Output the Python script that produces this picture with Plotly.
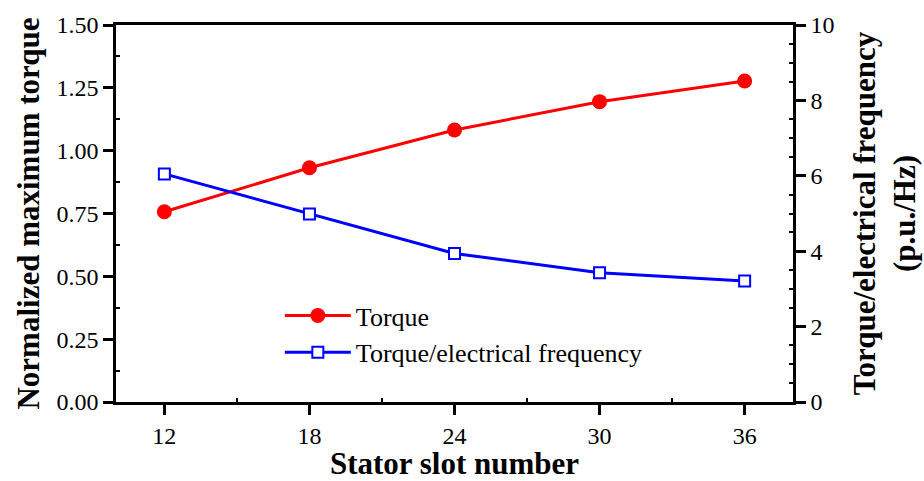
import plotly.graph_objects as go

slots = [12, 18, 24, 30, 36]
torque = [0.757, 0.932, 1.082, 1.195, 1.277]
torque_per_freq = [6.05, 4.99, 3.94, 3.43, 3.21]

font_family = "Liberation Serif, Times New Roman, serif"

fig = go.Figure()
fig.add_trace(go.Scatter(
    x=slots, y=torque, name="Torque", mode="lines+markers",
    line=dict(color="#ff0000", width=3),
    marker=dict(symbol="circle", size=15, color="#ff0000"),
    yaxis="y"))
fig.add_trace(go.Scatter(
    x=slots, y=torque_per_freq, name="Torque/electrical frequency", mode="lines+markers",
    line=dict(color="#0000ff", width=3),
    marker=dict(symbol="square", size=11, color="white", line=dict(color="#0000ff", width=2)),
    yaxis="y2"))

fig.update_layout(
    width=924, height=481,
    margin=dict(l=116, r=131, t=25, b=79, autoexpand=False),
    plot_bgcolor="white", paper_bgcolor="white",
    font=dict(family=font_family, color="black", size=24),
    showlegend=True,
    legend=dict(x=0.242, y=0.18, xanchor="left", yanchor="middle",
                bgcolor="rgba(0,0,0,0)", font=dict(size=26), itemwidth=66,
                tracegroupgap=0),
    xaxis=dict(
        range=[10, 38], tickvals=slots, ticktext=[str(s) for s in slots],
        showgrid=False, zeroline=False, automargin=False,
        showline=True, linecolor="black", linewidth=2.5, mirror=True,
        ticks="outside", ticklen=10, tickwidth=2.5, tickcolor="black",
        minor=dict(tickvals=[15, 21, 27, 33], ticks="inside", ticklen=4, tickwidth=1.5, tickcolor="black"),
        tickfont=dict(size=24),
        title=dict(text="<b>Stator slot number</b>", font=dict(size=31), standoff=6)),
    yaxis=dict(
        range=[0, 1.5], tickvals=[0, 0.25, 0.5, 0.75, 1.0, 1.25, 1.5], tickformat=".2f",
        showgrid=False, zeroline=False, automargin=False,
        showline=True, linecolor="black", linewidth=2.5,
        ticks="outside", ticklen=10, tickwidth=2.5, tickcolor="black",
        minor=dict(tickvals=[0.125, 0.375, 0.625, 0.875, 1.125, 1.375], ticks="inside",
                   ticklen=4, tickwidth=1.5, tickcolor="black"),
        tickfont=dict(size=24),
        title=dict(text="<b>Normalized maximum torque</b>", font=dict(size=31), standoff=8)),
    yaxis2=dict(
        range=[0, 10], tickvals=[0, 2, 4, 6, 8, 10], overlaying="y", side="right",
        showgrid=False, zeroline=False, automargin=False,
        showline=True, linecolor="black", linewidth=2.5,
        ticks="outside", ticklen=10, tickwidth=2.5, tickcolor="black",
        minor=dict(tickvals=[0.5*i for i in range(1, 20) if i % 4 != 0], ticks="inside",
                   ticklen=4, tickwidth=1.5, tickcolor="black"),
        tickfont=dict(size=24),
        title=dict(text="<b>Torque/electrical frequency<br>(p.u./Hz)</b>", font=dict(size=31), standoff=20)),
)

fig.write_html("out.html", config={"displayModeBar": False},
               post_script="document.body.style.margin='0px';")
